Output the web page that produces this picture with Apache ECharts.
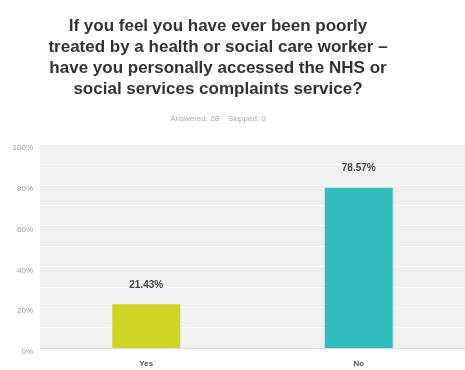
<!DOCTYPE html>
<html>
<head>
<meta charset="utf-8">
<script src="https://cdn.jsdelivr.net/npm/echarts@6/dist/echarts.min.js"></script>
<style>
  html, body { margin: 0; padding: 0; background: #fff; }
  #chart { width: 465px; height: 370px; }
</style>
</head>
<body>
<div id="chart"></div>
<script>
const categories = ['Yes', 'No'];
const percentValues = [21.43, 78.57];
const barColors = ['#cfd324', '#33bcbd'];
const yTickValues = [0, 20, 40, 60, 80, 100];

const titleLines = [
  'If you feel you have ever been poorly',
  'treated by a health or social care worker \u2013',
  'have you personally accessed the NHS or',
  'social services complaints service?'
];
const subtitleText = 'Answered: 28    Skipped: 0';

const chart = echarts.init(document.getElementById('chart'));

chart.setOption({
  animation: false,
  title: {
    text: titleLines.join('\n'),
    subtext: subtitleText,
    left: 213,
    top: 11,
    textAlign: 'center',
    itemGap: 15,
    textStyle: {
      fontFamily: '"Liberation Sans", sans-serif',
      fontWeight: 'bold',
      fontSize: 17,
      lineHeight: 21,
      color: '#333'
    },
    subtextStyle: {
      fontFamily: '"Liberation Sans", sans-serif',
      fontSize: 8,
      color: '#aaa'
    }
  },
  grid: {
    left: 40,
    right: 0,
    top: 144,
    bottom: 22,
    show: true,
    backgroundColor: '#f0f0f0',
    borderWidth: 0
  },
  xAxis: {
    type: 'category',
    data: categories,
    axisTick: { show: false },
    axisLine: { lineStyle: { color: '#dcdcdc', width: 1 } },
    axisLabel: {
      margin: 12,
      fontFamily: '"Liberation Sans", sans-serif',
      fontSize: 8,
      fontWeight: 'bold',
      color: '#555'
    }
  },
  yAxis: {
    type: 'value',
    min: 0,
    max: 100,
    interval: 10,
    axisLine: { show: false },
    axisTick: { show: false },
    splitLine: { lineStyle: { color: '#ffffff', width: 1 } },
    axisLabel: {
      margin: 7,
      verticalAlign: 'top',
      fontFamily: '"Liberation Sans", sans-serif',
      fontSize: 8,
      color: '#999',
      formatter: v => yTickValues.includes(v) ? v + '%' : ''
    }
  },
  series: [{
    type: 'bar',
    barWidth: '32%',
    data: percentValues.map((v, i) => ({
      value: v,
      itemStyle: { color: barColors[i] }
    })),
    label: {
      show: true,
      position: 'top',
      distance: 14,
      fontFamily: '"Liberation Sans", sans-serif',
      fontSize: 10,
      fontWeight: 'bold',
      color: '#444',
      formatter: p => p.value.toFixed(2) + '%'
    }
  }]
});
</script>
</body>
</html>
